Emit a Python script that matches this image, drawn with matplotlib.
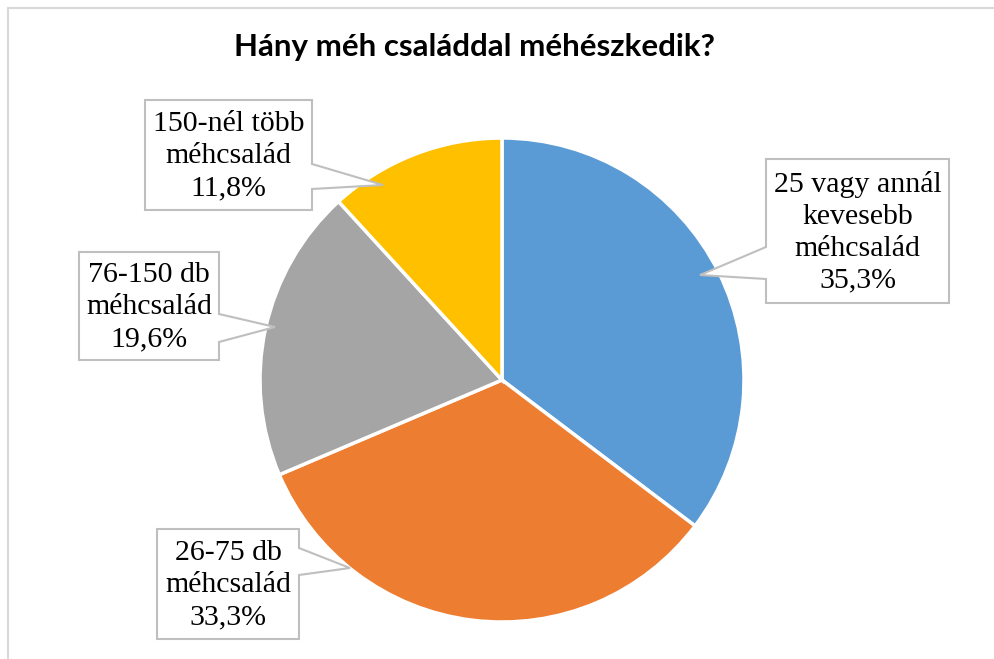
import matplotlib.pyplot as plt
from matplotlib.patches import Polygon
from matplotlib.lines import Line2D

# data
categories = ['25 vagy annál\nkevesebb\nméhcsalád', '26-75 db\nméhcsalád',
              '76-150 db\nméhcsalád', '150-nél több\nméhcsalád']
shares = [35.3, 33.3, 19.6, 11.8]
colors = ['#5B9BD5', '#ED7D31', '#A5A5A5', '#FFC000']
title = 'Hány méh családdal méhészkedik?'

W, H = 995, 659

# label boxes in pixel coords: left, top, right, bottom, wedge y0, y1, tip x, tip y, side
boxes = [
    (766, 159, 949, 303, 247, 279, 700, 275, 'left'),
    (157, 529, 299, 639, 548, 575, 350, 568, 'right'),
    (79, 252, 219, 360, 314, 342, 275, 327, 'right'),
    (145, 100, 312, 210, 164, 189, 383, 185, 'right'),
]


def fy(y):
    return H - y


fig = plt.figure(figsize=(W / 100, H / 100), dpi=100)
ax = fig.add_axes([0, 0, 1, 1])

ax.pie(shares, colors=colors, startangle=90, counterclock=False,
       center=(502, fy(380)), radius=242,
       wedgeprops=dict(edgecolor='white', linewidth=2.5))
ax.set_xlim(0, W)
ax.set_ylim(0, H)
ax.set_aspect('auto')
ax.axis('off')

for cat, val, b in zip(categories, shares, boxes):
    l, t, r, bt, w0, w1, tx, ty, side = b
    if side == 'right':
        pts = [(l, t), (r, t), (r, w0), (tx, ty), (r, w1), (r, bt), (l, bt)]
    else:
        pts = [(l, t), (r, t), (r, bt), (l, bt), (l, w1), (tx, ty), (l, w0)]
    pts = [(x, fy(y)) for x, y in pts]
    ax.add_patch(Polygon(pts, closed=True, facecolor='white',
                         edgecolor='#BFBFBF', linewidth=1.5, zorder=5))
    txt = cat + '\n' + f'{val:.1f}%'.replace('.', ',')
    ax.text((l + r) / 2, fy((t + bt) / 2 + 1), txt, ha='center', va='center',
            fontsize=21.5, family='Liberation Serif', linespacing=1.3,
            color='black', zorder=6)

# title
ax.text(474, fy(47), title, ha='center', va='center', fontsize=22.5,
        family='Lato', fontweight='bold', color='black')

# chart border (top and left visible)
fig.add_artist(Line2D([8 / W, 8 / W], [0, 1 - 8 / H], transform=fig.transFigure,
                      color='#D9D9D9', linewidth=1.5))
fig.add_artist(Line2D([8 / W, 1], [1 - 8 / H, 1 - 8 / H], transform=fig.transFigure,
                      color='#D9D9D9', linewidth=1.5))

fig.savefig('out.png', dpi=100)
